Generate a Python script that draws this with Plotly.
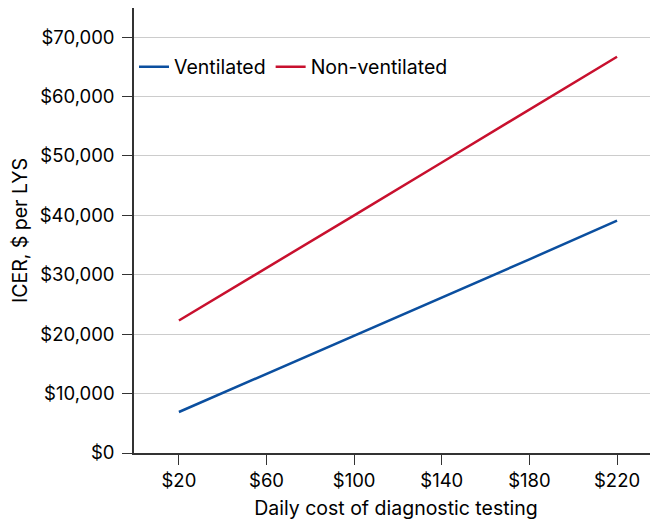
import plotly.graph_objects as go

daily_cost = [20, 60, 100, 140, 180, 220]
ventilated = [6900, 13300, 19800, 26200, 32600, 39100]
non_ventilated = [22300, 31100, 40000, 48900, 57800, 66700]

x_tickvals = [20, 60, 100, 140, 180, 220]
x_ticktext = ["$20", "$60", "$100", "$140", "$180", "$220"]
y_tickvals = [0, 10000, 20000, 30000, 40000, 50000, 60000, 70000]
y_ticktext = ["$0", "$10,000", "$20,000", "$30,000", "$40,000", "$50,000", "$60,000", "$70,000"]

FONT = "Inter, Liberation Sans, Arial, sans-serif"
FS = 18.5
FS_TITLE = 19.5

fig = go.Figure()
fig.add_trace(go.Scatter(x=daily_cost, y=ventilated, mode="lines", name="Ventilated",
                         line=dict(color="#0b4f9f", width=2.5)))
fig.add_trace(go.Scatter(x=daily_cost, y=non_ventilated, mode="lines", name="Non-ventilated",
                         line=dict(color="#c8102e", width=2.5)))

fig.update_layout(
    width=650, height=517,
    margin=dict(l=126, r=0, t=0, b=72, pad=0),
    paper_bgcolor="white", plot_bgcolor="white",
    font=dict(family=FONT, size=FS, color="#000000"),
    legend=dict(orientation="h", x=0.0, xanchor="left", y=0.867, yanchor="middle",
                bgcolor="rgba(0,0,0,0)", font=dict(size=FS_TITLE), itemwidth=30,
                tracegroupgap=0),
    xaxis=dict(range=[-0.5, 238.7], tickvals=x_tickvals, ticktext=x_ticktext,
               ticks="outside", ticklen=10, tickwidth=1.2, tickcolor="#333333",
               showline=True, linecolor="#333333", linewidth=1.5,
               showgrid=False, zeroline=False,
               title=dict(text="Daily cost of diagnostic testing", standoff=11,
                          font=dict(size=FS_TITLE)),
               tickfont=dict(size=FS)),
    yaxis=dict(range=[0, 74900], tickvals=y_tickvals, ticktext=y_ticktext,
               ticks="outside", ticklen=10, tickwidth=1.2, tickcolor="#333333",
               showline=True, linecolor="#333333", linewidth=1.5,
               showgrid=True, gridcolor="#cccccc", gridwidth=1, zeroline=False,
               ticklabelstandoff=4,
               title=dict(text="ICER, $ per LYS", standoff=8, font=dict(size=FS_TITLE)),
               tickfont=dict(size=FS)),
)

fig.write_html("out.html")
